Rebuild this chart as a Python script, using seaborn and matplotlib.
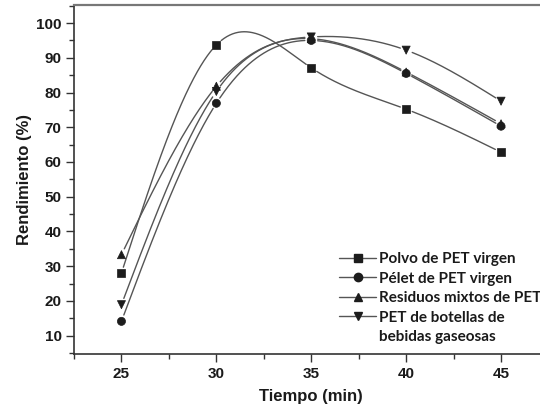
import numpy as np
import pandas as pd
import matplotlib
matplotlib.use("Agg")
import matplotlib.pyplot as plt
from matplotlib.lines import Line2D
from matplotlib.ticker import MultipleLocator
import seaborn as sns

# Reaction time (min) and yield (%) for each PET source
tiempo = [25, 30, 35, 40, 45]
polvo = [28.0, 93.7, 87.1, 75.2, 62.8]
pelet = [14.1, 76.9, 95.0, 85.5, 70.3]
residuos = [33.3, 81.8, 95.5, 85.9, 71.0]
botellas = [18.9, 80.3, 96.0, 92.2, 77.5]

series = ["Polvo de PET virgen", "Pélet de PET virgen",
          "Residuos mixtos de PET", "PET de botellas de bebidas gaseosas"]
valores = [polvo, pelet, residuos, botellas]
marcadores = ["s", "o", "^", "v"]
etiquetas_leyenda = ["Polvo de PET virgen", "Pélet de PET virgen",
                     "Residuos mixtos de PET", "PET de botellas de",
                     "bebidas gaseosas"]


def spline_natural(x, y, xs):
    """Natural cubic spline through (x, y), evaluated at xs."""
    x = np.asarray(x, float)
    y = np.asarray(y, float)
    n = len(x)
    h = np.diff(x)
    A = np.zeros((n, n))
    b = np.zeros(n)
    A[0, 0] = A[-1, -1] = 1.0
    for i in range(1, n - 1):
        A[i, i - 1] = h[i - 1]
        A[i, i] = 2 * (h[i - 1] + h[i])
        A[i, i + 1] = h[i]
        b[i] = 6 * ((y[i + 1] - y[i]) / h[i] - (y[i] - y[i - 1]) / h[i - 1])
    M = np.linalg.solve(A, b)
    idx = np.clip(np.searchsorted(x, xs) - 1, 0, n - 2)
    x0, x1 = x[idx], x[idx + 1]
    hi = x1 - x0
    t0, t1 = x1 - xs, xs - x0
    return (M[idx] * t0 ** 3 / (6 * hi) + M[idx + 1] * t1 ** 3 / (6 * hi)
            + (y[idx] / hi - M[idx] * hi / 6) * t0
            + (y[idx + 1] / hi - M[idx + 1] * hi / 6) * t1)


sns.set_style("ticks")
plt.rcParams["font.family"] = ["Liberation Sans", "DejaVu Sans"]

fig = plt.figure(figsize=(5.4, 4.09), dpi=100)
ax = fig.add_axes([74 / 540, 1 - 354 / 409, (548.5 - 74) / 540, (354 - 5) / 409])
ax.set_xlim(22.5, 47.5)
ax.set_ylim(4.7, 105.2)

color_linea = "#555555"
color_marca = "#1c1c1c"
hueco_px = 6.0

# Smooth curves, broken near each marker
xs = np.linspace(tiempo[0], tiempo[-1], 800)
trozos = []
for nombre, ys_datos in zip(series, valores):
    ys = spline_natural(tiempo, ys_datos, xs)
    curva_px = ax.transData.transform(np.column_stack([xs, ys]))
    puntos_px = ax.transData.transform(np.column_stack([tiempo, ys_datos]))
    dist = np.min(np.hypot(curva_px[:, None, 0] - puntos_px[None, :, 0],
                           curva_px[:, None, 1] - puntos_px[None, :, 1]), axis=1)
    visible = dist > hueco_px
    seg = np.cumsum(~visible)
    trozos.append(pd.DataFrame({"x": xs[visible], "y": ys[visible],
                                "serie": nombre,
                                "tramo": seg[visible]}))
df_curvas = pd.concat(trozos, ignore_index=True)
df_curvas["unidad"] = df_curvas["serie"] + "_" + df_curvas["tramo"].astype(str)

sns.lineplot(data=df_curvas, x="x", y="y", units="unidad", estimator=None,
             color=color_linea, linewidth=1.0, sort=False, legend=False, ax=ax)

df_puntos = pd.DataFrame({
    "tiempo": np.tile(tiempo, len(series)),
    "rendimiento": np.concatenate(valores),
    "serie": np.repeat(series, len(tiempo)),
})
sns.scatterplot(data=df_puntos, x="tiempo", y="rendimiento", style="serie",
                markers=dict(zip(series, marcadores)), color=color_marca,
                s=34, edgecolor=color_marca, linewidth=0.5, legend=False,
                ax=ax, zorder=3)

ax.set_xticks([25, 30, 35, 40, 45])
ax.set_yticks(list(range(10, 101, 10)))
ax.xaxis.set_minor_locator(MultipleLocator(2.5))
ax.yaxis.set_minor_locator(MultipleLocator(5))
ax.set_xlim(22.5, 47.5)
ax.set_ylim(4.7, 105.2)
ax.tick_params(which="major", direction="out", length=6, width=1.0,
               color="#333333", labelsize=11, pad=3)
ax.tick_params(which="minor", direction="out", length=3.5, width=1.0,
               color="#333333")
for lab in ax.get_xticklabels() + ax.get_yticklabels():
    lab.set_fontweight("bold")
    lab.set_color("#1a1a1a")

ax.set_xlabel("Tiempo (min)", fontsize=12, fontweight="bold", color="#1a1a1a",
              labelpad=6)
ax.set_ylabel("Rendimiento (%)", fontsize=12, fontweight="bold", color="#1a1a1a",
              labelpad=3)

for lado in ["left", "bottom"]:
    ax.spines[lado].set_color("#333333")
    ax.spines[lado].set_linewidth(1.2)
ax.spines["top"].set_color("#777777")
ax.spines["top"].set_linewidth(1.6)
ax.spines["right"].set_visible(False)

# Legend: four symbol entries, the last label continues on a fifth row
handles = [Line2D([], [], color=color_linea, linewidth=1.0, marker=m,
                  markersize=6, markerfacecolor=color_marca,
                  markeredgecolor=color_marca) for m in marcadores]
handles.append(Line2D([], [], linestyle="none", marker=None))
leg = ax.legend(handles, etiquetas_leyenda, loc="upper left",
                bbox_to_anchor=(339 / 540, 1 - 252 / 409),
                bbox_transform=fig.transFigure, frameon=False,
                handlelength=2.45, handletextpad=0.15, labelspacing=0.36,
                borderpad=0, borderaxespad=0,
                prop={"family": ["Lato", "DejaVu Sans"], "weight": "bold",
                      "size": 11})
for t in leg.get_texts():
    t.set_color("#1a1a1a")

fig.savefig("out.png", dpi=100)
